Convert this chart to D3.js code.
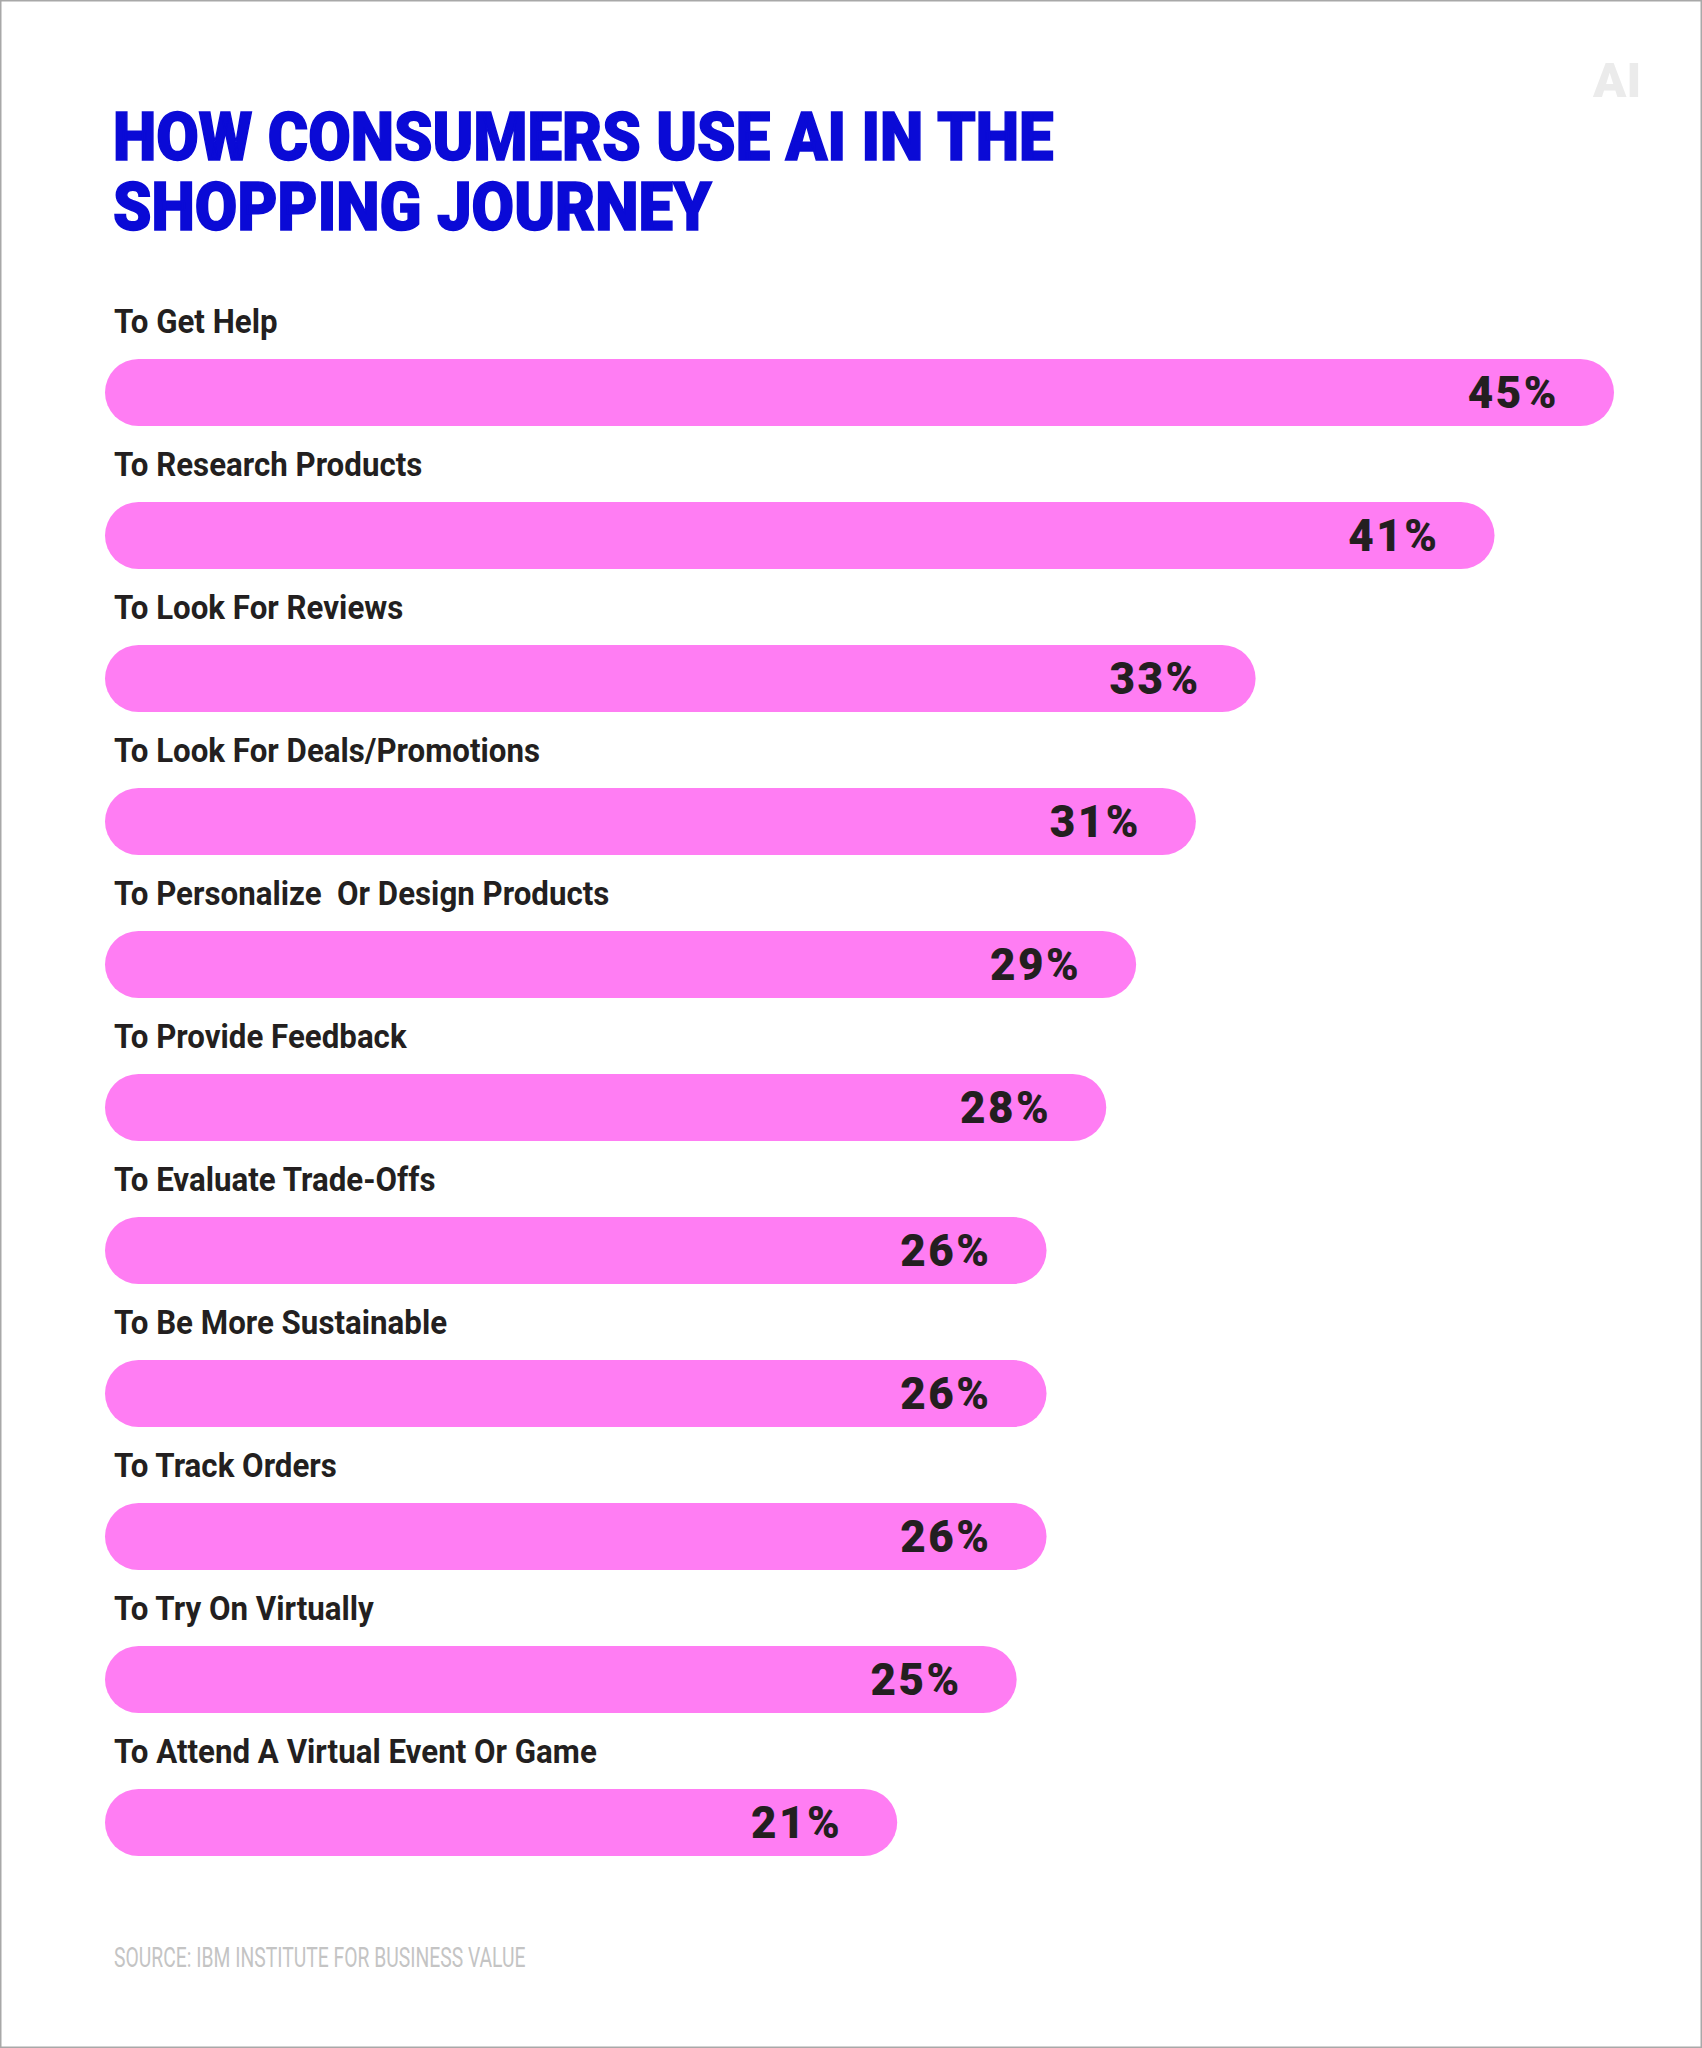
<!DOCTYPE html>
<html>
<head>
<meta charset="utf-8">
<script src="https://cdn.jsdelivr.net/npm/d3@7"></script>
<style>
  html, body { margin: 0; padding: 0; background: #fff; }
  svg text { white-space: pre; }
</style>
</head>
<body>
<div class="chart"></div>
<script>
const categories = [
    "To Get Help",
    "To Research Products",
    "To Look For Reviews",
    "To Look For Deals/Promotions",
    "To Personalize  Or Design Products",
    "To Provide Feedback",
    "To Evaluate Trade-Offs",
    "To Be More Sustainable",
    "To Track Orders",
    "To Try On Virtually",
    "To Attend A Virtual Event Or Game"
]

const values = [45, 41, 33, 31, 29, 28, 26, 26, 26, 25, 21]

const titleLines = ["HOW CONSUMERS USE AI IN THE", "SHOPPING JOURNEY"]
const sourceText = "SOURCE: IBM INSTITUTE FOR BUSINESS VALUE"

function drawChart() {
    const width = 1702,
        height = 2048;

    const svg = d3.select(".chart")
        .append("svg")
        .attr("width", width)
        .attr("height", height);

    // frame
    svg.append("rect")
        .attr("x", 0.75).attr("y", 0.75)
        .attr("width", width - 1.5).attr("height", height - 1.5)
        .attr("fill", "#fff")
        .attr("stroke", "#a8a8a8")
        .attr("stroke-width", 1.5);

    // small logo top right
    svg.append("text")
        .attr("transform", "translate(1593,97)")
        .style("font-family", "Roboto")
        .style("font-weight", 900)
        .style("font-size", "49px")
        .attr("fill", "#ebebeb")
        .text("AI");

    // title
    svg.selectAll(".title")
        .data(titleLines)
        .join("text")
        .attr("class", "title")
        .attr("transform", (d, i) => `translate(113, ${160 + i * 70}) scale(0.92,1)`)
        .style("font-family", "Roboto")
        .style("font-weight", 900)
        .style("font-size", "67px")
        .attr("fill", "#0a0ad6")
        .attr("stroke", "#0a0ad6")
        .attr("stroke-width", 1.5)
        .text(d => d);

    // scales
    const y = d3.scaleBand()
        .domain(categories)
        .range([359, 359 + 143 * categories.length])
        .paddingInner(0);

    const barHeight = 67;

    const x = d3.scaleLinear()
        .domain([0, 45])
        .range([270, 1614]);

    const rows = svg.selectAll(".row")
        .data(categories.map((c, i) => ({ name: c, value: values[i] })))
        .join("g")
        .attr("class", "row")
        .attr("transform", d => `translate(0, ${y(d.name)})`);

    // bars, rounded both ends
    rows.append("rect")
        .attr("x", 105)
        .attr("y", 0)
        .attr("width", d => x(d.value) - 105)
        .attr("height", barHeight)
        .attr("rx", barHeight / 2)
        .attr("fill", "#ff7df3");

    // category labels above bars
    rows.append("text")
        .attr("transform", "translate(114, -26) scale(0.92,1)")
        .style("font-family", "Roboto")
        .style("font-weight", 700)
        .style("font-size", "34px")
        .attr("fill", "#231f20")
        .text(d => d.name);

    // value labels inside bar end
    rows.append("text")
        .attr("x", d => x(d.value) - 55)
        .attr("y", barHeight / 2 + 15.5)
        .attr("text-anchor", "end")
        .style("font-family", "Roboto")
        .style("font-weight", 900)
        .style("font-size", "44px")
        .style("letter-spacing", "2.5px")
        .attr("fill", "#231f20")
        .text(d => d.value + "%");

    // source
    svg.append("text")
        .attr("transform", "translate(114, 1967) scale(0.69,1)")
        .style("font-family", "Roboto")
        .style("font-weight", 400)
        .style("font-size", "28px")
        .attr("fill", "#c4c4c4")
        .text(sourceText);
}

drawChart();
</script>
</body>
</html>
